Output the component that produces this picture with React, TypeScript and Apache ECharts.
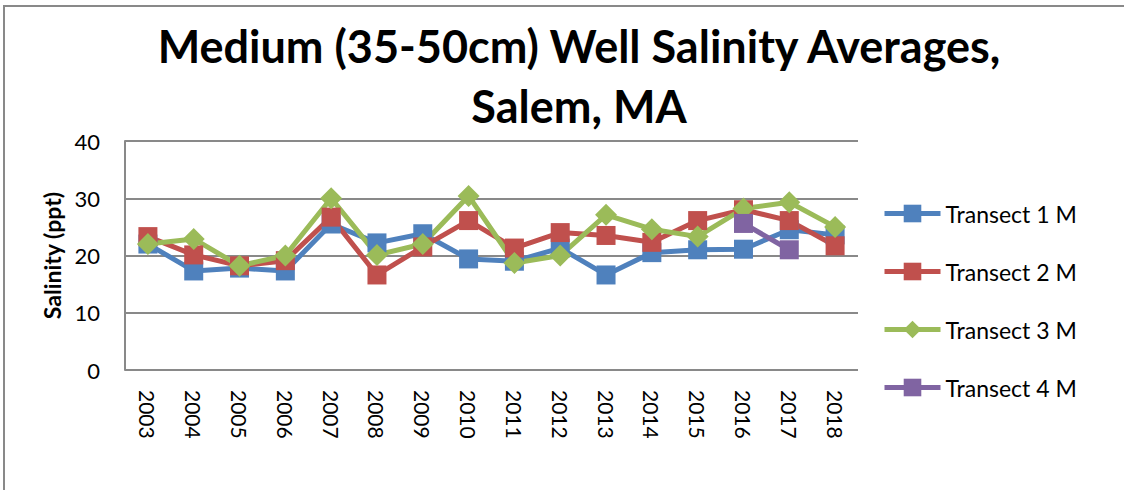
import React, { useEffect, useRef } from "react";
import * as echarts from "echarts";

const years = ["2003","2004","2005","2006","2007","2008","2009","2010","2011","2012","2013","2014","2015","2016","2017","2018"];
const transect1 = [22.0, 17.3, 17.8, 17.3, 25.5, 22.2, 23.8, 19.4, 19.0, 21.3, 16.6, 20.5, 21.0, 21.1, 24.5, 23.6];
const transect2 = [23.3, 20.1, 18.2, 19.1, 26.7, 16.6, 21.5, 26.1, 21.3, 24.0, 23.5, 22.3, 26.1, 28.0, 26.1, 21.7];
const transect3 = [22.0, 22.9, 18.2, 20.0, 30.0, 20.1, 22.0, 30.4, 18.7, 20.0, 27.1, 24.6, 23.3, 28.2, 29.3, 25.0];
const transect4 = [null, null, null, null, null, null, null, null, null, null, null, null, null, 25.6, 21.0, null];
const seriesNames = ["Transect 1 M", "Transect 2 M", "Transect 3 M", "Transect 4 M"];
const seriesColors = ["#4F81BD", "#C0504D", "#9BBB59", "#8064A2"];
const seriesSymbols = ["rect", "rect", "diamond", "rect"];
const yTicks = [0, 10, 20, 30, 40];

const FONT = "Lato, 'Open Sans', sans-serif";

export default function App() {
  const ref = useRef<HTMLDivElement>(null);
  useEffect(() => {
    if (!ref.current) return;
    const chart = echarts.init(ref.current, null, { renderer: "svg" });
    const data = [transect1, transect2, transect3, transect4];
    chart.setOption({
      animation: false,
      backgroundColor: "#ffffff",
      title: {
        text: "Medium (35-50cm) Well Salinity Averages,\nSalem, MA",
        left: 574,
        top: 11,
        textAlign: "center",
        textStyle: {
          fontFamily: FONT,
          fontWeight: "bold",
          fontSize: 45,
          lineHeight: 60,
          color: "#000000",
        },
      },
      graphic: [
        {
          type: "rect",
          shape: { x: 4, y: 6, width: 1200, height: 600 },
          style: { fill: "none", stroke: "#898989", lineWidth: 2 },
          silent: true,
          z: -1,
        },
      ],
      legend: {
        orient: "vertical",
        left: 882,
        top: 202,
        padding: 0,
        itemWidth: 56,
        itemHeight: 22,
        itemGap: 35,
        lineStyle: { width: 5 },
        textStyle: { fontFamily: FONT, fontSize: 23, color: "#000000", lineHeight: 21 },
        data: seriesNames,
      },
      grid: { left: 125, right: 266, top: 141, bottom: 120, containLabel: false },
      xAxis: {
        type: "category",
        data: years,
        boundaryGap: true,
        axisLine: { show: false },
        axisTick: { show: false },
        axisLabel: {
          rotate: -90,
          margin: 20,
          fontFamily: FONT,
          fontSize: 21,
          color: "#000000",
        },
      },
      yAxis: {
        type: "value",
        min: 0,
        max: 40,
        interval: 10,
        name: "Salinity (ppt)",
        nameLocation: "middle",
        nameGap: 62,
        nameTextStyle: { fontFamily: FONT, fontWeight: "bold", fontSize: 23, color: "#000000" },
        axisLine: { show: true, lineStyle: { color: "#898989", width: 2 } },
        axisTick: { show: false },
        axisLabel: {
          margin: 25,
          fontFamily: FONT,
          fontSize: 22,
          color: "#000000",
          formatter: (v: number) => (yTicks.includes(v) ? String(v) : ""),
        },
        splitLine: { show: true, lineStyle: { color: "#898989", width: 2 } },
      },
      series: seriesNames.map((name, i) => ({
        name,
        type: "line",
        data: data[i],
        symbol: seriesSymbols[i],
        symbolSize: seriesSymbols[i] === "diamond" ? 22 : 19,
        showAllSymbol: true,
        connectNulls: false,
        lineStyle: { color: seriesColors[i], width: 5 },
        itemStyle: { color: seriesColors[i] },
        emphasis: { disabled: true },
      })),
    });
    return () => chart.dispose();
  }, []);
  return (
    <div
      ref={ref}
      style={{ position: "absolute", left: 0, top: 0, width: 1124, height: 490, background: "#fff" }}
    />
  );
}
